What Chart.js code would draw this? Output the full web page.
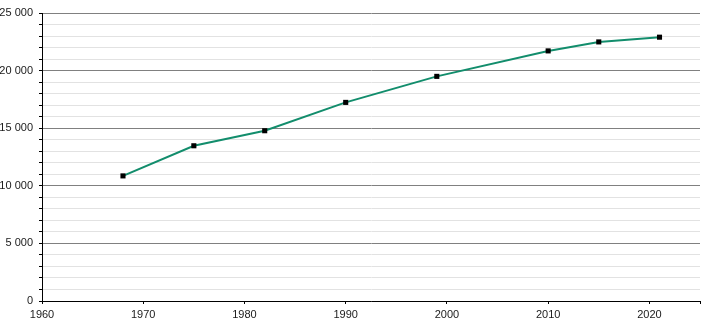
<!DOCTYPE html>
<html>
<head>
<meta charset="utf-8">
<script src="https://cdn.jsdelivr.net/npm/chart.js@4/dist/chart.umd.min.js"></script>
<style>
  html, body { margin: 0; padding: 0; background: #fff; }
  #wrap { width: 710px; height: 320px; }
</style>
</head>
<body>
<div id="wrap"><canvas id="pop-chart" width="710" height="320"></canvas></div>
<script>
const years = [1968, 1975, 1982, 1990, 1999, 2010, 2015, 2021];
const population = [10860, 13475, 14780, 17240, 19500, 21710, 22490, 22900];

const LINE_COLOR = "#128d6c";

function formatThousands(value) {
  return String(value).replace(/\B(?=(\d{3})+(?!\d))/g, " ");
}

new Chart(document.getElementById("pop-chart"), {
  type: "line",
  data: {
    datasets: [
      {
        label: "Population",
        data: years.map((year, i) => ({ x: year, y: population[i] })),
        borderColor: LINE_COLOR,
        borderWidth: 2,
        tension: 0,
        pointStyle: "rect",
        pointRadius: 3.6,
        pointBorderWidth: 0,
        pointBackgroundColor: "#000",
      },
    ],
  },
  options: {
    responsive: false,
    animation: false,
    layout: { padding: { top: 13, right: 10, left: 0, bottom: 0 } },
    plugins: {
      legend: { display: false },
      tooltip: { enabled: false },
    },
    scales: {
      x: {
        type: "linear",
        min: 1960,
        max: 2025,
        afterFit: (scale) => { scale.height = 19; },
        grid: {
          drawOnChartArea: false,
          tickLength: 3,
          tickColor: "#000",
        },
        border: { color: "#000", width: 1 },
        ticks: {
          stepSize: 10,
          padding: 4,
          color: "#1a1a1a",
          font: { family: "Liberation Sans", size: 11 },
          callback: (value) => (value % 10 === 0 && value <= 2020 ? String(value) : ""),
        },
      },
      y: {
        min: 0,
        max: 25000,
        afterFit: (scale) => { scale.width = 42; },
        grid: {
          color: (ctx) => (ctx.tick && ctx.tick.value % 5000 === 0 ? "#808080" : "#e2e2e2"),
          tickColor: "#000",
          tickLength: 3,
        },
        border: { color: "#000", width: 1 },
        ticks: {
          stepSize: 1000,
          autoSkip: false,
          padding: 6,
          color: "#1a1a1a",
          font: { family: "Liberation Sans", size: 11 },
          callback: (value) => (value % 5000 === 0 ? formatThousands(value) : ""),
        },
      },
    },
  },
});
</script>
</body>
</html>
